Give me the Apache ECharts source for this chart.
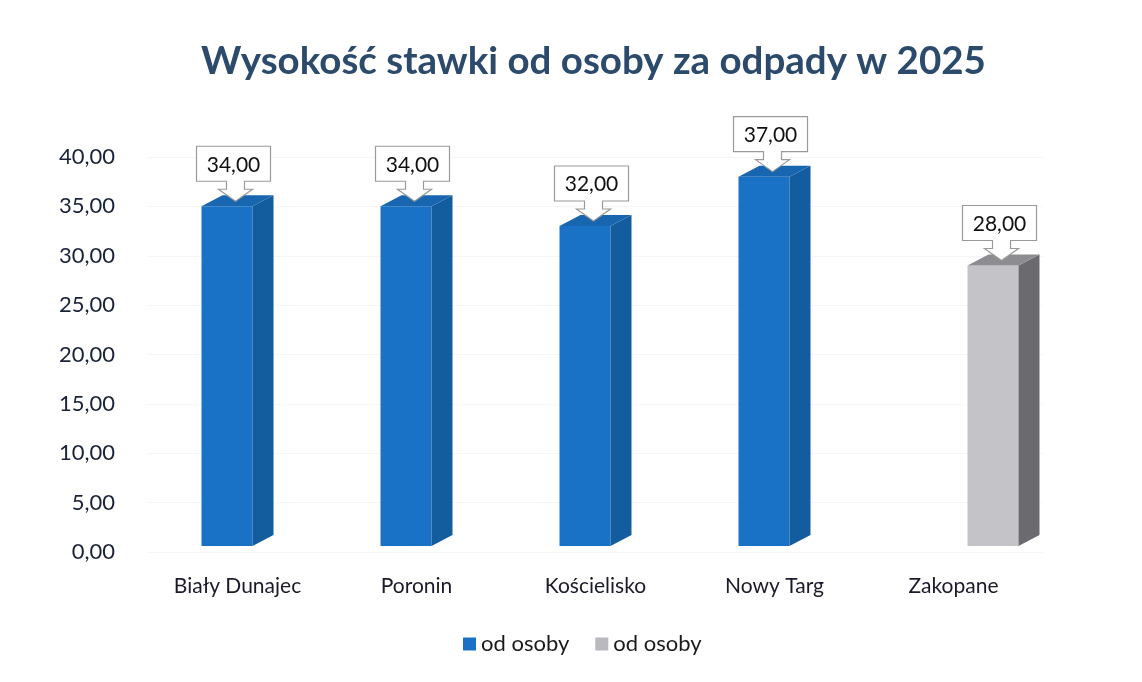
<!DOCTYPE html>
<html lang="pl">
<head>
	<meta charset="UTF-8">
	<script src="https://cdn.jsdelivr.net/npm/echarts@6/dist/echarts.min.js"></script>
	<title>Wysokość stawki od osoby za odpady w 2025</title>
</head>
<body style="margin:0;background:#fff;">
<div id="chart" style="width:1142px;height:682px;"></div>
<script type="text/javascript">
	// dane
	var categories = ['Biały Dunajec', 'Poronin', 'Kościelisko', 'Nowy Targ', 'Zakopane'];
	var blueValues = [34, 34, 32, 37, null];
	var greyValues = [null, null, null, null, 28];
	var yTicks = [0, 5, 10, 15, 20, 25, 30, 35, 40];

	function fmt(v) {
		return v.toFixed(2).replace('.', ',');
	}

	function toPairs(values) {
		var out = [];
		values.forEach(function (v, i) {
			if (v !== null) out.push([i, v]);
		});
		return out;
	}

	// słupek 3D + dymek z wartością
	function makeRender(colors, shiftX) {
		return function (params, api) {
			var i = api.value(0), v = api.value(1);
			var top = api.coord([i, v]);
			var base = api.coord([i, 0]);
			var xl = top[0] - 36 + shiftX, w = 51, dx = 21, dy = -11;
			var xr = xl + w;
			var yt = top[1] - 10, yb = base[1] - 6;
			var tipX = xl + w / 2 + dx / 2 - 2, tipY = yt - 5;
			var bw = 74, bh = 35;
			var bx = tipX - bw / 2 - 2, by = tipY - 55;
			var cy = by + bh;
			var callout = [
				[bx, by], [bx + bw, by], [bx + bw, cy],
				[tipX + 9, cy], [tipX + 9, cy + 8], [tipX + 17, cy + 8],
				[tipX, tipY],
				[tipX - 17, cy + 8], [tipX - 9, cy + 8], [tipX - 9, cy],
				[bx, cy]
			];
			return {
				type: 'group',
				children: [
					{ type: 'polygon', shape: { points: [[xl, yt], [xr, yt], [xr, yb], [xl, yb]] },
						style: { fill: colors[0] } },
					{ type: 'polygon', shape: { points: [[xr, yt], [xr + dx, yt + dy], [xr + dx, yb + dy], [xr, yb]] },
						style: { fill: colors[1] } },
					{ type: 'polygon', shape: { points: [[xl, yt], [xl + dx, yt + dy], [xr + dx, yt + dy], [xr, yt]] },
						style: { fill: colors[2] } },
					{ type: 'polygon', shape: { points: callout },
						style: { fill: '#ffffff', stroke: '#9a9a9a', lineWidth: 1.2 } },
					{ type: 'text', style: { x: bx + bw / 2, y: by + bh / 2 + 1, text: fmt(v),
						align: 'center', verticalAlign: 'middle', fill: '#111',
						font: '21px Lato, "Open Sans", sans-serif' } }
				]
			};
		};
	}

	var chart = echarts.init(document.getElementById('chart'));
	var option = {
		animation: false,
		backgroundColor: '#ffffff',
		textStyle: { fontFamily: 'Lato, "Open Sans", sans-serif' },
		title: {
			text: 'Wysokość stawki od osoby za odpady w 2025',
			left: 196,
			top: 37,
			textStyle: { fontSize: 38.5, fontWeight: 'bold', color: '#2c4a6c', fontFamily: 'Lato, sans-serif' }
		},
		legend: {
			bottom: 22,
			left: 458,
			itemWidth: 13,
			itemHeight: 13,
			itemGap: 26,
			icon: 'rect',
			textStyle: { fontSize: 22, color: '#1a1a1a' },
			formatter: function (name) { return name.trim(); },
			data: [
				{ name: 'od osoby', itemStyle: { color: '#1a72c6' } },
				{ name: 'od osoby ', itemStyle: { color: '#b9b9be' } }
			]
		},
		grid: { left: 148, right: 99, top: 157, bottom: 130 },
		xAxis: {
			type: 'category',
			data: categories,
			axisLine: { show: false },
			axisTick: { show: false },
			axisLabel: { margin: 24, fontSize: 21, color: '#1a1a2a' }
		},
		yAxis: {
			type: 'value',
			min: yTicks[0],
			max: yTicks[yTicks.length - 1],
			interval: 5,
			axisLine: { show: false },
			axisTick: { show: false },
			axisLabel: { margin: 33, fontSize: 22, color: '#1a2238', formatter: fmt },
			splitLine: { lineStyle: { color: '#f5f5f5' } }
		},
		series: [
			{
				name: 'od osoby',
				type: 'custom',
				renderItem: makeRender(['#1a72c6', '#135d9f', '#1866b0'], 0),
				encode: { x: 0, y: 1 },
				data: toPairs(blueValues)
			},
			{
				name: 'od osoby ',
				type: 'custom',
				renderItem: makeRender(['#c3c3c8', '#6a6a6f', '#8c8c91'], 50),
				encode: { x: 0, y: 1 },
				data: toPairs(greyValues)
			}
		]
	};
	chart.setOption(option);
</script>
</body>
</html>
